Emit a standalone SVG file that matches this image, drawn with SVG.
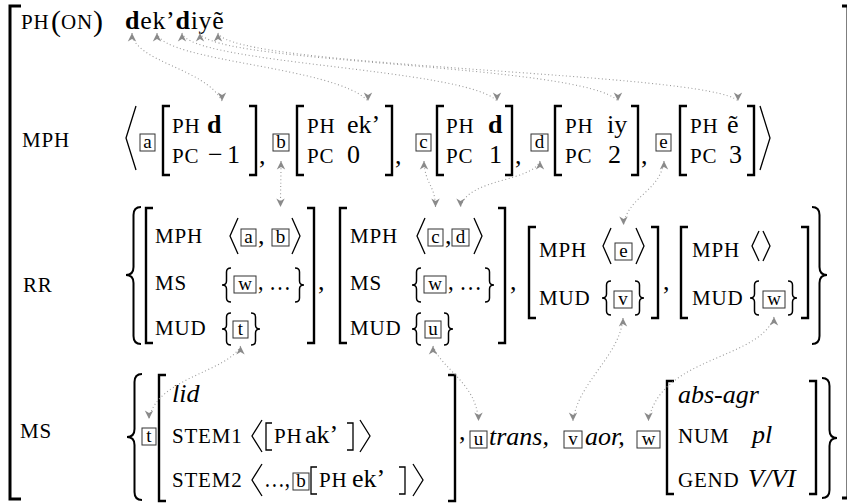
<svg xmlns="http://www.w3.org/2000/svg" width="847" height="504" viewBox="0 0 847 504" font-family="Liberation Serif, serif">
<defs>
<style>
.t,.sc,.pa,.tl{font-family:"Liberation Serif","Times New Roman",Times,"DejaVu Serif",serif;fill:#000}
.t{font-size:26px}
.sc{font-size:21px;letter-spacing:0.8px}
.pa{font-size:30px}
.it{font-style:italic}
.b{font-weight:bold}
.tl{font-size:19px;text-anchor:middle}
.tag{fill:none;stroke:#333;stroke-width:1}
.br{fill:none;stroke:#000;stroke-width:2.4}
.ob{fill:none;stroke:#000;stroke-width:3}
.ab{fill:none;stroke:#000;stroke-width:1.3}
.bc{fill:none;stroke:#000;stroke-width:1.5}
.bb{fill:none;stroke:#000;stroke-width:2}
.cn{fill:none;stroke:#9a9a9a;stroke-width:1.1;stroke-dasharray:1 2.6;marker-start:url(#au);marker-end:url(#ad)}
</style>
<marker id="au" markerUnits="userSpaceOnUse" markerWidth="10" markerHeight="10" refX="9" refY="5" orient="270"><path d="M9,5 L0.5,0.8 L3,5 L0.5,9.2 Z" fill="#8a8a8a"/></marker>
<marker id="ad" markerUnits="userSpaceOnUse" markerWidth="10" markerHeight="10" refX="9" refY="5" orient="90"><path d="M9,5 L0.5,0.8 L3,5 L0.5,9.2 Z" fill="#8a8a8a"/></marker>
</defs>
<rect width="847" height="504" fill="#fff"/>

<g id="outer">
<path class="ob" d="M21,6 H10 V499 H21"/>
<path class="ob" d="M842,6 H848 V498 H842"/>
</g>

<g id="row-phon">
<text class="sc" x="21" y="29">PH</text>
<text class="pa" x="51" y="31">(</text>
<text class="sc" x="61" y="29">ON</text>
<text class="pa" x="93" y="31">)</text>
<text class="t" x="125" y="29" letter-spacing="0.7"><tspan class="b">d</tspan>ek’<tspan class="b">d</tspan>iyẽ</text>
</g>

<g id="row-mph">
<text class="sc" x="22" y="147">MPH</text>
<path class="ab" d="M136,106 L126,138 L136,170"/>
<path class="ab" d="M760,106 L770,138 L760,170"/>
<g id="mph-a">
<rect class="tag" x="140" y="134" width="15" height="17"/><text class="tl" x="147.5" y="148">a</text>
<path class="br" d="M170,106 H163 V175 H170"/>
<text class="sc" x="172" y="133">PH</text><text class="t b" x="207" y="133">d</text>
<text class="sc" x="172" y="163">PC</text><text class="t" x="208" y="163">−<tspan x="227">1</tspan></text>
<path class="br" d="M249,106 H256 V175 H249"/>
<text class="t" x="259" y="164">,</text>
</g>
<g id="mph-b">
<rect class="tag" x="273" y="134" width="16" height="17"/><text class="tl" x="281" y="148">b</text>
<path class="br" d="M304,106 H297 V175 H304"/>
<text class="sc" x="307" y="133">PH</text><text class="t" x="347" y="133">ek’</text>
<text class="sc" x="307" y="163">PC</text><text class="t" x="347" y="163">0</text>
<path class="br" d="M385,106 H392 V175 H385"/>
<text class="t" x="395" y="164">,</text>
</g>
<g id="mph-c">
<rect class="tag" x="416" y="134" width="15" height="17"/><text class="tl" x="423.5" y="148">c</text>
<path class="br" d="M444,106 H437 V175 H444"/>
<text class="sc" x="446" y="133">PH</text><text class="t b" x="488" y="133">d</text>
<text class="sc" x="446" y="163">PC</text><text class="t" x="489" y="163">1</text>
<path class="br" d="M505,106 H512 V175 H505"/>
<text class="t" x="515" y="164">,</text>
</g>
<g id="mph-d">
<rect class="tag" x="531" y="134" width="17" height="17"/><text class="tl" x="539.5" y="148">d</text>
<path class="br" d="M562,106 H555 V175 H562"/>
<text class="sc" x="565" y="133">PH</text><text class="t" x="607" y="133">iy</text>
<text class="sc" x="565" y="163">PC</text><text class="t" x="608" y="163">2</text>
<path class="br" d="M631,106 H638 V175 H631"/>
<text class="t" x="641" y="164">,</text>
</g>
<g id="mph-e">
<rect class="tag" x="656" y="134" width="15" height="17"/><text class="tl" x="663.5" y="148">e</text>
<path class="br" d="M687,106 H680 V175 H687"/>
<text class="sc" x="690" y="133">PH</text><text class="t" x="727" y="133">ẽ</text>
<text class="sc" x="690" y="163">PC</text><text class="t" x="729" y="163">3</text>
<path class="br" d="M747,106 H754 V175 H747"/>
</g>
</g>

<g id="row-rr">
<text class="sc" x="23" y="292">RR</text>
<path class="bb" d="M141,207 Q133.5,207 133.5,215 L133.5,267 Q133.5,275 126,275 Q133.5,275 133.5,283 L133.5,336 Q133.5,344 141,344"/>
<path class="bb" d="M812,207 Q819.5,207 819.5,215 L819.5,267 Q819.5,275 827,275 Q819.5,275 819.5,283 L819.5,336 Q819.5,344 812,344"/>
<g id="rr-1">
<path class="br" d="M153,208 H146 V343 H153"/>
<text class="sc" x="155" y="243">MPH</text>
<text class="sc" x="155" y="290">MS</text>
<text class="sc" x="155" y="335">MUD</text>
<path class="ab" d="M238,218 L230,236 L238,254"/>
<rect class="tag" x="241" y="229" width="15" height="17"/><text class="tl" x="248.5" y="243">a</text>
<text class="t" x="258" y="244">,</text>
<rect class="tag" x="272" y="229" width="17" height="17"/><text class="tl" x="280.5" y="243">b</text>
<path class="ab" d="M292,218 L300,236 L292,254"/>
<path class="bc" d="M231,268 Q226.5,268 226.5,272 L226.5,281 Q226.5,285 222,285 Q226.5,285 226.5,289 L226.5,298 Q226.5,302 231,302"/>
<rect class="tag" x="234" y="276" width="22" height="17"/><text class="tl" x="245" y="290">w</text>
<text class="t" x="258" y="290" textLength="33" lengthAdjust="spacingAndGlyphs">, …</text>
<path class="bc" d="M295,268 Q299.5,268 299.5,272 L299.5,281 Q299.5,285 304,285 Q299.5,285 299.5,289 L299.5,298 Q299.5,302 295,302"/>
<path class="bc" d="M231,313 Q226.5,313 226.5,317 L226.5,325 Q226.5,329 222,329 Q226.5,329 226.5,333 L226.5,341 Q226.5,345 231,345"/>
<rect class="tag" x="233" y="321" width="15" height="17"/><text class="tl" x="240.5" y="335">t</text>
<path class="bc" d="M251,313 Q255.5,313 255.5,317 L255.5,325 Q255.5,329 260,329 Q255.5,329 255.5,333 L255.5,341 Q255.5,345 251,345"/>
<path class="br" d="M307,208 H314 V343 H307"/>
<text class="t" x="318" y="290">,</text>
</g>
<g id="rr-2">
<path class="br" d="M347,208 H340 V343 H347"/>
<text class="sc" x="350" y="243">MPH</text>
<text class="sc" x="350" y="290">MS</text>
<text class="sc" x="350" y="335">MUD</text>
<path class="ab" d="M425,218 L417,236 L425,254"/>
<rect class="tag" x="428" y="229" width="15" height="17"/><text class="tl" x="435.5" y="243">c</text>
<text class="t" x="445" y="244">,</text>
<rect class="tag" x="452" y="229" width="17" height="17"/><text class="tl" x="460.5" y="243">d</text>
<path class="ab" d="M474,218 L482,236 L474,254"/>
<path class="bc" d="M421,268 Q416.5,268 416.5,272 L416.5,281 Q416.5,285 412,285 Q416.5,285 416.5,289 L416.5,298 Q416.5,302 421,302"/>
<rect class="tag" x="424" y="276" width="22" height="17"/><text class="tl" x="435" y="290">w</text>
<text class="t" x="448" y="290" textLength="34" lengthAdjust="spacingAndGlyphs">, …</text>
<path class="bc" d="M485,268 Q489.5,268 489.5,272 L489.5,281 Q489.5,285 494,285 Q489.5,285 489.5,289 L489.5,298 Q489.5,302 485,302"/>
<path class="bc" d="M421,313 Q416.5,313 416.5,317 L416.5,325 Q416.5,329 412,329 Q416.5,329 416.5,333 L416.5,341 Q416.5,345 421,345"/>
<rect class="tag" x="425" y="321" width="16" height="17"/><text class="tl" x="433" y="335">u</text>
<path class="bc" d="M444,313 Q448.5,313 448.5,317 L448.5,325 Q448.5,329 453,329 Q448.5,329 448.5,333 L448.5,341 Q448.5,345 444,345"/>
<path class="br" d="M498,208 H505 V343 H498"/>
<text class="t" x="510" y="290">,</text>
</g>
<g id="rr-3">
<path class="br" d="M536,227 H529 V318 H536"/>
<text class="sc" x="539" y="257">MPH</text>
<text class="sc" x="539" y="305">MUD</text>
<path class="ab" d="M611,228 L603,246 L611,264"/>
<rect class="tag" x="615" y="243" width="17" height="17"/><text class="tl" x="623.5" y="257">e</text>
<path class="ab" d="M636,228 L644,246 L636,264"/>
<path class="bc" d="M611,281 Q606.5,281 606.5,285 L606.5,294 Q606.5,298 602,298 Q606.5,298 606.5,302 L606.5,311 Q606.5,315 611,315"/>
<rect class="tag" x="614" y="291" width="18" height="17"/><text class="tl" x="623" y="305">v</text>
<path class="bc" d="M635,281 Q639.5,281 639.5,285 L639.5,294 Q639.5,298 644,298 Q639.5,298 639.5,302 L639.5,311 Q639.5,315 635,315"/>
<path class="br" d="M651,227 H658 V318 H651"/>
<text class="t" x="663" y="290">,</text>
</g>
<g id="rr-4">
<path class="br" d="M688,227 H681 V318 H688"/>
<text class="sc" x="692" y="257">MPH</text>
<text class="sc" x="692" y="305">MUD</text>
<path class="ab" d="M759,231 L752,246 L759,261"/>
<path class="ab" d="M763,231 L770,246 L763,261"/>
<path class="bc" d="M759,281 Q754.5,281 754.5,285 L754.5,294 Q754.5,298 750,298 Q754.5,298 754.5,302 L754.5,311 Q754.5,315 759,315"/>
<rect class="tag" x="763" y="291" width="22" height="17"/><text class="tl" x="774" y="305">w</text>
<path class="bc" d="M788,281 Q792.5,281 792.5,285 L792.5,294 Q792.5,298 797,298 Q792.5,298 792.5,302 L792.5,311 Q792.5,315 788,315"/>
<path class="br" d="M801,227 H808 V318 H801"/>
</g>
</g>

<g id="row-ms">
<text class="sc" x="20" y="438">MS</text>
<path class="bb" d="M142,374 Q134.5,374 134.5,382 L134.5,429 Q134.5,437 127,437 Q134.5,437 134.5,445 L134.5,492 Q134.5,500 142,500"/>
<path class="bb" d="M822,378 Q829.5,378 829.5,386 L829.5,430 Q829.5,438 837,438 Q829.5,438 829.5,446 L829.5,490 Q829.5,498 822,498"/>
<g id="ms-t">
<rect class="tag" x="142" y="428" width="14" height="17"/><text class="tl" x="149" y="442">t</text>
<path class="br" d="M166,375 H159 V501 H166"/>
<text class="t it" x="172" y="402">lid</text>
<text class="sc" x="172" y="443">STEM1</text>
<path class="ab" d="M262,420 L252,436 L262,452"/>
<path class="ab" d="M272,423 H266 V450 H272"/>
<text class="sc" x="274" y="443">PH</text><text class="t" x="305" y="443">ak’</text>
<path class="ab" d="M347,423 H353 V450 H347"/>
<path class="ab" d="M360,420 L370,436 L360,452"/>
<text class="sc" x="172" y="487">STEM2</text>
<path class="ab" d="M262,464 L252,480 L262,496"/>
<text class="t" x="264" y="487" textLength="26" lengthAdjust="spacingAndGlyphs">…,</text>
<rect class="tag" x="293" y="473" width="16" height="17"/><text class="tl" x="301" y="487">b</text>
<path class="ab" d="M317,467 H311 V494 H317"/>
<text class="sc" x="319" y="487">PH</text><text class="t" x="352" y="487">ek’</text>
<path class="ab" d="M399,467 H405 V494 H399"/>
<path class="ab" d="M413,464 L423,480 L413,496"/>
<path class="br" d="M448,375 H455 V501 H448"/>
<text class="t" x="459" y="440">,</text>
</g>
<g id="ms-u">
<rect class="tag" x="470" y="431" width="17" height="17"/><text class="tl" x="478.5" y="445">u</text>
<text class="t it" x="489" y="445">trans,</text>
</g>
<g id="ms-v">
<rect class="tag" x="564" y="431" width="18" height="17"/><text class="tl" x="573" y="445">v</text>
<text class="t it" x="585" y="445">aor,</text>
</g>
<g id="ms-w">
<rect class="tag" x="637" y="431" width="23" height="17"/><text class="tl" x="648.5" y="445">w</text>
<path class="br" d="M674,381 H667 V494 H674"/>
<text class="t it" x="678" y="403">abs-agr</text>
<text class="sc" x="678" y="443">NUM</text><text class="t it" x="752" y="443">pl</text>
<text class="sc" x="678" y="487">GEND</text><text class="t it" x="748" y="487">V/VI</text>
<path class="br" d="M809,381 H816 V494 H809"/>
</g>
</g>

<g id="connectors">
<path class="cn" d="M132,33 C134,62 205,68 222,101"/>
<path class="cn" d="M157,33 C163,62 335,66 368,101"/>
<path class="cn" d="M182,33 C190,64 465,68 497,101"/>
<path class="cn" d="M200,33 C212,64 585,64 618,101"/>
<path class="cn" d="M218,33 C232,68 712,72 738,101"/>
<path class="cn" d="M281,161 C281,182 280.5,186 280.5,207"/>
<path class="cn" d="M424,161 C425,185 435,184 435.5,207"/>
<path class="cn" d="M540,161 C532,182 468,178 460.5,207"/>
<path class="cn" d="M664,161 C660,192 628,196 623.5,225"/>
<path class="cn" d="M240.5,346 C228,372 156,378 149,419"/>
<path class="cn" d="M433,346 C442,370 476,382 478.5,421"/>
<path class="cn" d="M623,318 C620,356 578,382 573,421"/>
<path class="cn" d="M774,317 C760,360 660,356 648.5,421"/>
</g>
</svg>
